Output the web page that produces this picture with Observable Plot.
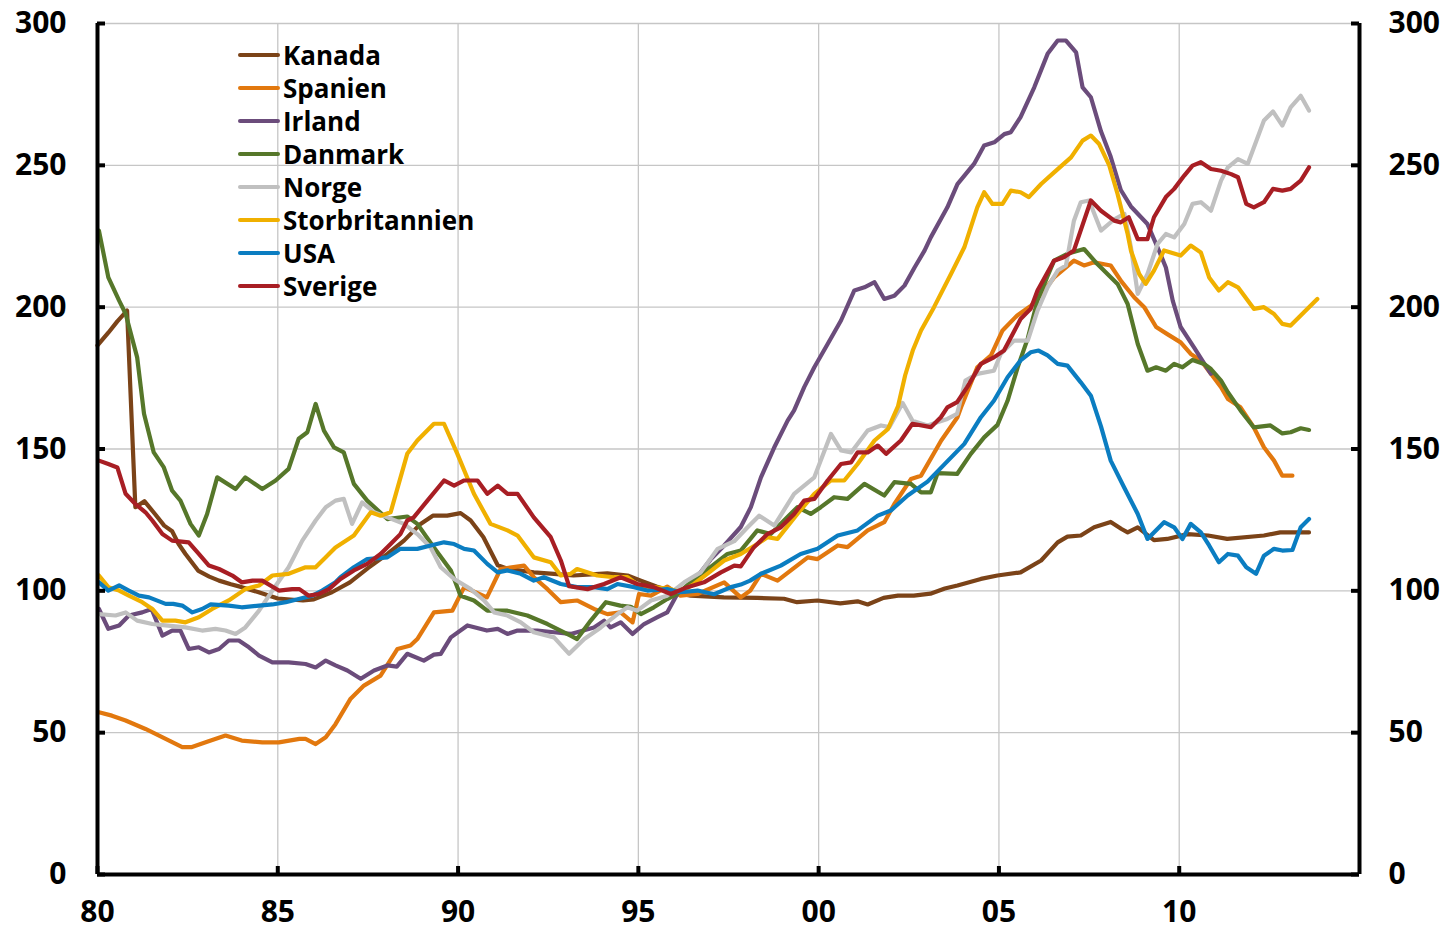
<!DOCTYPE html>
<html>
<head>
<meta charset="utf-8">
<script src="https://cdn.jsdelivr.net/npm/d3@7"></script>
<script src="https://cdn.jsdelivr.net/npm/@observablehq/plot@0.6"></script>
<style>
  html, body { margin: 0; padding: 0; background: #fff; }
  #wrap { position: relative; width: 1452px; height: 929px; font-family: "Open Sans", sans-serif; }
  #legend { position: absolute; left: 238px; top: 38px; }
  .item { display: flex; align-items: center; height: 33.1px; font-weight: bold; font-size: 26px; color: #000; }
  .sw { width: 42px; height: 4px; border-radius: 2px; margin-right: 3px; }
</style>
</head>
<body>
<div id="wrap"><div id="legend"></div></div>
<script>
const countries = ["Kanada","Spanien","Irland","Danmark","Norge","Storbritannien","USA","Sverige"];
const colors = ["#7b4318","#e2780e","#6b4c7b","#56772a","#c0c0c0","#f0b000","#0b7dc1","#a81e24"];
const yTicks = [0,50,100,150,200,250,300];
const xTicks = [1980,1985,1990,1995,2000,2005,2010];

const kanada = [[1980.0,186.5],[1980.3,191],[1980.55,195],[1980.82,198.8],[1981.05,129.5],[1981.3,131.6],[1981.6,127],[1981.85,123],[1982.07,121],[1982.25,116.5],[1982.44,113],[1982.8,107],[1983.1,105],[1983.37,103.6],[1983.7,102.3],[1984.0,101.3],[1984.47,99.5],[1985.0,97.3],[1985.7,96.6],[1986.0,97],[1986.5,99.5],[1987.0,103],[1987.5,108],[1988.04,113],[1988.5,117.7],[1988.96,123.6],[1989.3,126.5],[1989.7,126.5],[1990.07,127.4],[1990.35,124.8],[1990.7,119],[1991.1,109],[1991.37,107.8],[1992.1,106.5],[1992.66,106],[1993.2,105.4],[1993.7,105.8],[1994.14,106.2],[1994.7,105.4],[1995.07,103.6],[1995.5,101.5],[1996.0,99.5],[1996.45,98.3],[1997.37,97.7],[1998.3,97.5],[1999.04,97.2],[1999.4,96],[1999.97,96.6],[2000.6,95.6],[2001.08,96.3],[2001.36,95.2],[2001.8,97.5],[2002.2,98.3],[2002.64,98.3],[2003.1,99],[2003.5,100.8],[2003.85,101.9],[2004.5,104.2],[2004.96,105.4],[2005.6,106.5],[2006.17,110.7],[2006.63,117.1],[2006.9,119.1],[2007.27,119.5],[2007.64,122.4],[2008.1,124.3],[2008.4,121.8],[2008.57,120.6],[2008.85,122.4],[2009.3,117.9],[2009.67,118.3],[2010.23,120],[2010.8,119.5],[2011.33,118.3],[2012.35,119.5],[2012.8,120.6],[2013.6,120.6]];

const spanien = [[1980.04,57.2],[1980.4,56],[1980.78,54.3],[1981.33,51.3],[1981.89,47.8],[1982.35,44.9],[1982.6,44.9],[1983.0,46.6],[1983.55,49],[1984.0,47.2],[1984.57,46.6],[1985.03,46.6],[1985.6,47.8],[1985.77,47.8],[1986.05,46],[1986.33,48.4],[1986.6,53],[1987.02,62],[1987.39,66.6],[1987.85,70.1],[1988.32,79.5],[1988.68,80.7],[1988.87,83],[1989.33,92.4],[1989.84,93],[1990.17,101.3],[1990.8,97.7],[1991.18,107.7],[1991.83,108.9],[1992.1,104.8],[1992.48,100.6],[1992.85,96],[1993.3,96.6],[1993.77,93.6],[1994.14,91.8],[1994.51,92.4],[1994.84,88.9],[1995.02,98.9],[1995.35,98.3],[1995.8,101.5],[1996.17,98.3],[1996.64,98.9],[1997.38,103],[1997.84,97.7],[1998.1,100],[1998.4,106],[1998.86,103.6],[1999.23,107.2],[1999.7,111.8],[1999.97,111.2],[2000.53,116],[2000.8,115.4],[2001.36,121.3],[2001.82,124.2],[2002.1,130.6],[2002.56,139.4],[2002.84,140.6],[2003.4,153],[2003.85,161.2],[2003.95,164.7],[2004.4,178.8],[2004.78,183],[2005.1,191.8],[2005.5,197],[2005.9,200.6],[2006.2,205],[2006.53,210.5],[2007.08,216.4],[2007.36,214.7],[2007.64,215.8],[2008.1,214.7],[2008.4,209],[2008.75,203.5],[2009.03,200],[2009.36,193],[2009.67,190.5],[2010.04,187.6],[2010.32,183.5],[2010.6,181.2],[2010.88,176.5],[2011.16,171.8],[2011.35,167.6],[2011.7,164.7],[2012.07,157.6],[2012.35,150.6],[2012.63,145.9],[2012.86,140.6],[2013.14,140.6]];

const irland = [[1980.04,93.6],[1980.3,86.6],[1980.6,87.8],[1980.87,91.3],[1981.24,92.4],[1981.5,93.6],[1981.8,84.2],[1982.07,86],[1982.3,86],[1982.53,79.5],[1982.81,80.1],[1983.09,78.3],[1983.37,79.5],[1983.64,82.5],[1983.92,82.5],[1984.2,80.1],[1984.48,77.2],[1984.85,74.8],[1985.3,74.8],[1985.77,74.2],[1986.05,73],[1986.33,75.4],[1986.6,73.7],[1986.93,71.9],[1987.3,69],[1987.67,71.9],[1988.04,73.7],[1988.3,73.3],[1988.59,77.8],[1989.05,75.4],[1989.33,77.5],[1989.52,77.8],[1989.8,83.6],[1990.26,87.8],[1990.8,86],[1991.1,86.6],[1991.37,84.8],[1991.65,86],[1992.2,86],[1992.66,85.4],[1993.12,84.8],[1993.3,85.4],[1993.77,87.1],[1994.05,89.5],[1994.23,87.1],[1994.51,88.9],[1994.84,84.8],[1995.16,88.3],[1995.53,90.7],[1995.8,92.4],[1996.08,98.9],[1996.55,103.6],[1997.0,111],[1997.38,116],[1997.84,122.5],[1998.12,129.5],[1998.4,140],[1998.77,150.6],[1999.14,160],[1999.32,163.6],[1999.6,171.8],[1999.88,178.8],[2000.25,187],[2000.62,195.3],[2000.99,205.9],[2001.27,207],[2001.55,208.8],[2001.82,202.9],[2002.1,204],[2002.38,207.6],[2002.66,214],[2002.94,220],[2003.11,224.6],[2003.57,235.2],[2003.85,243.4],[2004.31,250.5],[2004.59,257],[2004.87,258.1],[2005.15,261],[2005.33,261.7],[2005.6,267],[2005.98,277.5],[2006.35,289.3],[2006.63,294],[2006.86,294],[2007.14,289.8],[2007.32,277.5],[2007.55,274],[2007.83,262],[2008.1,253],[2008.38,241.3],[2008.66,235.5],[2009.12,229.3],[2009.44,219.9],[2009.63,214],[2009.82,202.3],[2010.04,193],[2010.41,185.8],[2010.7,180],[2010.88,176.5]];

const danmark = [[1980.04,227],[1980.3,210.5],[1980.6,202.3],[1980.78,197.7],[1981.1,182.3],[1981.29,162.4],[1981.56,148.8],[1981.84,143.5],[1982.07,135.3],[1982.3,131.8],[1982.58,123.6],[1982.81,119.5],[1983.04,127.1],[1983.32,140],[1983.83,135.9],[1984.1,140],[1984.57,135.9],[1984.94,138.9],[1985.3,143],[1985.58,153.6],[1985.82,155.9],[1986.05,165.9],[1986.28,156.5],[1986.56,150.6],[1986.83,148.8],[1987.11,137.7],[1987.48,131.8],[1988.04,125.3],[1988.59,126.2],[1988.87,123.6],[1989.33,115.3],[1989.8,107.2],[1990.07,98.3],[1990.44,96.6],[1990.81,93],[1991.37,93],[1991.92,91.3],[1992.48,88.3],[1993.12,84.2],[1993.3,83],[1993.68,89.5],[1994.1,96],[1994.5,94.8],[1994.79,94.4],[1995.07,91.8],[1995.43,94.2],[1995.8,97.1],[1996.08,98.9],[1996.5,103.5],[1997.0,108.3],[1997.47,113],[1997.84,114.2],[1998.3,121.3],[1998.67,120],[1999.04,124.8],[1999.41,129.5],[1999.78,127.1],[2000.06,129.5],[2000.43,133],[2000.8,132.4],[2001.27,137.7],[2001.82,133.6],[2002.1,138.3],[2002.56,137.7],[2002.84,134.7],[2003.11,134.7],[2003.3,141.5],[2003.84,141.2],[2004.22,148.3],[2004.59,154.1],[2004.96,158.5],[2005.24,167],[2005.52,178.8],[2005.8,189],[2006.07,202.3],[2006.35,211],[2006.53,216.4],[2006.9,218.8],[2007.36,220.5],[2007.73,215.2],[2008.29,208.2],[2008.57,201.1],[2008.85,187],[2009.12,177.6],[2009.36,178.8],[2009.63,177.6],[2009.86,180],[2010.09,178.8],[2010.37,181.4],[2010.69,180],[2010.88,178.2],[2011.16,174.1],[2011.35,170],[2011.7,163.6],[2012.07,157.6],[2012.53,158.3],[2012.86,155.5],[2013.09,155.9],[2013.37,157.3],[2013.6,156.7]];

const norge = [[1980.04,91.8],[1980.5,91.3],[1980.78,92.4],[1981.1,89.5],[1981.52,88.3],[1981.89,87.8],[1982.44,87.1],[1982.9,86],[1983.27,86.6],[1983.55,86],[1983.83,84.8],[1984.1,87.1],[1984.48,93],[1984.85,100.1],[1985.3,108.3],[1985.68,117.7],[1986.05,124.8],[1986.33,129.5],[1986.6,131.8],[1986.83,132.4],[1987.06,123.6],[1987.34,131.2],[1987.67,127.7],[1988.04,125.9],[1988.5,123.6],[1988.87,120],[1989.24,115.3],[1989.52,108.3],[1989.89,104.2],[1990.35,100.6],[1990.72,96.6],[1991.0,92.4],[1991.37,91.3],[1991.74,88.9],[1992.1,85.4],[1992.66,83.6],[1993.08,77.8],[1993.5,83],[1993.96,87.1],[1994.42,91.8],[1994.7,94.2],[1994.97,93],[1995.35,96.6],[1995.8,98.3],[1996.27,103],[1996.73,106.5],[1997.2,114.8],[1997.66,117.5],[1998.03,122.4],[1998.35,126.5],[1998.77,123],[1999.32,134.2],[1999.88,140],[2000.34,155.3],[2000.62,149.5],[2000.9,148.8],[2001.36,156.5],[2001.73,158.3],[2001.96,157.7],[2002.33,166.2],[2002.6,160],[2003.02,158.3],[2003.57,160.6],[2003.84,162.4],[2004.07,174.1],[2004.4,176.5],[2004.86,177.6],[2005.05,183.5],[2005.42,188.2],[2005.8,188.2],[2006.07,198.8],[2006.35,207],[2006.63,212.9],[2006.86,214.7],[2007.08,230.5],[2007.27,237],[2007.5,237.6],[2007.83,227],[2008.2,231],[2008.48,232.9],[2008.66,221.2],[2008.85,204.7],[2009.12,211.7],[2009.4,222.3],[2009.63,225.8],[2009.86,224.6],[2010.14,229.3],[2010.37,236.4],[2010.6,237],[2010.88,234],[2011.16,244.6],[2011.35,249.3],[2011.63,252.2],[2011.9,250.5],[2012.35,265.8],[2012.6,269],[2012.86,264],[2013.09,270.4],[2013.37,274.5],[2013.6,269.3]];

const storbritannien = [[1980.04,105.4],[1980.3,101.3],[1980.6,100.1],[1980.87,98.3],[1981.24,96],[1981.52,93.6],[1981.8,89.5],[1982.16,89.5],[1982.44,88.9],[1982.81,90.7],[1983.18,93.6],[1983.64,96.6],[1984.1,100.6],[1984.48,101.9],[1984.85,105.4],[1985.3,106],[1985.77,108.3],[1986.05,108.3],[1986.33,111.8],[1986.6,115.3],[1987.11,119.5],[1987.58,127.7],[1987.85,126.5],[1988.13,127.7],[1988.59,148.3],[1988.87,153],[1989.33,158.9],[1989.61,158.9],[1989.98,148.3],[1990.44,134.2],[1990.9,123.6],[1991.37,121.3],[1991.65,119.5],[1992.1,111.8],[1992.57,110.1],[1992.85,105.4],[1993.12,106],[1993.3,107.7],[1993.86,105.4],[1994.32,104.8],[1994.7,104.8],[1995.07,101.3],[1995.43,101.3],[1995.9,100.6],[1996.17,99.5],[1996.54,102.4],[1996.91,106],[1997.38,110.7],[1997.84,113],[1998.3,116.5],[1998.58,118.9],[1998.86,118.3],[1999.41,127.1],[1999.88,134.2],[2000.34,138.9],[2000.71,138.9],[2001.08,144.7],[2001.55,153],[2001.92,157],[2002.2,165],[2002.4,176],[2002.61,184.7],[2002.84,191.8],[2003.2,200],[2003.67,211.7],[2004.04,221.1],[2004.4,235.2],[2004.59,240.5],[2004.82,236.4],[2005.1,236.4],[2005.33,241.1],[2005.6,240.5],[2005.83,238.8],[2006.17,243.4],[2006.53,247.5],[2007.0,252.8],[2007.32,258.7],[2007.55,260.5],[2007.78,257.5],[2008.06,250],[2008.29,239.9],[2008.57,225.8],[2008.66,220],[2008.89,211.7],[2009.07,208.2],[2009.3,212.9],[2009.58,220],[2010.04,218.2],[2010.32,221.7],[2010.6,219.3],[2010.83,210.5],[2011.1,205.9],[2011.35,208.8],[2011.63,207],[2012.07,199.4],[2012.35,200],[2012.63,197.6],[2012.86,194.1],[2013.09,193.5],[2013.46,198.2],[2013.83,202.9]];

const usa = [[1980.04,103],[1980.3,100.1],[1980.6,101.9],[1980.87,100.1],[1981.15,98.3],[1981.43,97.7],[1981.89,95.4],[1982.1,95.4],[1982.35,94.8],[1982.63,92.4],[1982.9,93.6],[1983.14,95.2],[1983.64,94.8],[1984.0,94.2],[1984.48,94.8],[1984.85,95.2],[1985.22,96],[1985.58,97.1],[1985.96,98.3],[1986.23,100.1],[1986.6,103],[1986.74,104.8],[1987.11,108.3],[1987.48,111.2],[1988.04,111.8],[1988.4,114.8],[1988.87,114.8],[1989.24,116],[1989.61,117.1],[1989.89,116.5],[1990.17,114.8],[1990.44,114.2],[1990.81,109.5],[1991.1,106.5],[1991.37,107.2],[1991.74,106],[1992.1,103.6],[1992.38,104.8],[1992.85,102.4],[1993.3,101.3],[1993.77,101.3],[1994.14,100.6],[1994.42,102.4],[1994.88,101.3],[1995.25,100.1],[1995.8,100.6],[1996.17,99.5],[1996.64,100.1],[1997.1,98.8],[1997.57,101.3],[1997.84,102.2],[1998.1,103.6],[1998.4,106],[1998.95,108.9],[1999.5,113],[1999.97,114.8],[2000.53,119.5],[2001.08,121.3],[2001.64,126.5],[2002.0,128.3],[2002.47,133.6],[2003.02,138.5],[2003.48,144.5],[2004.04,151.8],[2004.5,161.2],[2004.86,167],[2005.24,175.3],[2005.6,181.2],[2005.88,184.1],[2006.1,184.7],[2006.35,183],[2006.63,180],[2006.9,179.4],[2007.27,173.5],[2007.55,168.8],[2007.83,158],[2008.1,145.9],[2008.47,136.5],[2008.85,127.1],[2009.12,118.3],[2009.58,124.2],[2009.86,122.4],[2010.09,118.3],[2010.32,123.6],[2010.6,120.6],[2010.83,116],[2011.1,110.1],[2011.35,113],[2011.63,112.4],[2011.86,108.3],[2012.13,106],[2012.35,112.4],[2012.63,114.8],[2012.86,114.2],[2013.14,114.4],[2013.37,122.4],[2013.6,125.3]];

const sverige = [[1980.04,145.9],[1980.3,144.7],[1980.55,143.5],[1980.78,134.2],[1981.05,130.6],[1981.33,127.7],[1981.52,124.8],[1981.8,120],[1982.07,117.7],[1982.53,117.1],[1982.81,113],[1983.09,108.9],[1983.37,107.7],[1983.74,105.4],[1984.0,103],[1984.3,103.6],[1984.57,103.6],[1985.03,100.1],[1985.4,100.6],[1985.6,100.6],[1985.86,98.3],[1986.14,98.9],[1986.42,100.6],[1986.74,104.2],[1987.11,107.2],[1987.48,109.5],[1987.85,113],[1988.13,116.5],[1988.4,120],[1988.59,124.8],[1988.77,125.9],[1989.15,131.8],[1989.61,138.9],[1989.89,137.1],[1990.17,138.9],[1990.54,138.9],[1990.81,134.2],[1991.1,137.1],[1991.37,134.2],[1991.65,134.2],[1992.1,125.9],[1992.57,118.9],[1992.85,110.7],[1993.08,101.6],[1993.59,100.6],[1994.05,102.4],[1994.51,104.8],[1994.97,102.4],[1995.43,101.3],[1995.9,98.9],[1996.36,101.3],[1996.82,103],[1997.29,106.5],[1997.66,108.9],[1997.84,108.6],[1998.2,115.3],[1998.58,120],[1998.95,122.4],[1999.32,127.1],[1999.6,131.8],[1999.88,132.4],[2000.25,138.9],[2000.62,144.7],[2000.9,145.3],[2001.08,148.8],[2001.36,148.8],[2001.64,151.2],[2001.87,148.3],[2002.28,153],[2002.6,158.9],[2003.11,157.7],[2003.39,161.2],[2003.57,164.7],[2003.84,166.5],[2004.12,171.8],[2004.5,180],[2004.86,182.3],[2005.14,184.7],[2005.6,195.8],[2005.88,199.4],[2006.07,205.9],[2006.53,216.4],[2006.8,217.6],[2007.08,220],[2007.55,237.6],[2007.83,234],[2008.2,230.5],[2008.38,229.9],[2008.6,231.7],[2008.85,224],[2009.12,224],[2009.3,231.7],[2009.63,238.8],[2009.86,241.7],[2010.14,246.4],[2010.37,249.9],[2010.6,251.1],[2010.88,248.7],[2011.16,248.1],[2011.44,246.9],[2011.63,245.8],[2011.86,236.4],[2012.07,235.2],[2012.35,237],[2012.6,241.7],[2012.86,241.1],[2013.09,241.7],[2013.37,244.6],[2013.6,249.3]];

const seriesList = [kanada, spanien, irland, danmark, norge, storbritannien, usa, sverige];
const rows = [];
seriesList.forEach((s, i) => s.forEach(([year, value]) => rows.push({country: countries[i], year, value})));

const W = 1452, H = 929, mL = 97, mR = 93, mT = 23, mB = 55;
const frameW = W - mL - mR, frameH = H - mT - mB;
const fontStyle = {fontSize: 30, fontWeight: "bold", fontFamily: "Open Sans"};

const chart = Plot.plot({
  width: W, height: H,
  marginLeft: mL, marginRight: mR, marginTop: mT, marginBottom: mB,
  style: {fontFamily: "Open Sans", fontSize: "30px", fontWeight: "bold", color: "#000", background: "transparent", overflow: "visible"},
  x: {domain: [1980, 2015]},
  y: {domain: [0, 300]},
  color: {domain: countries, range: colors},
  marks: [
    Plot.gridX(xTicks.filter(d => d > 1980), {stroke: "#c6c6c6", strokeOpacity: 1, strokeWidth: 1.3}),
    Plot.gridY(yTicks.filter(d => d > 0), {stroke: "#c6c6c6", strokeOpacity: 1, strokeWidth: 1.3}),
    Plot.line(rows, {x: "year", y: "value", z: "country", stroke: "country", strokeWidth: 4.2, strokeLinejoin: "round", strokeLinecap: "round"}),
    Plot.ruleX([1980, 2015], {stroke: "#000", strokeWidth: 4}),
    Plot.ruleY([0], {stroke: "#000", strokeWidth: 4}),
    Plot.tickY(yTicks, {y: d => d, stroke: "#000", strokeWidth: 4, insetRight: frameW - 8}),
    Plot.tickY(yTicks, {y: d => d, stroke: "#000", strokeWidth: 4, insetLeft: frameW - 8}),
    Plot.tickX(xTicks, {x: d => d, stroke: "#000", strokeWidth: 4, insetTop: frameH - 8}),
    Plot.axisY(yTicks, {anchor: "left", label: null, tickSize: 0, tickPadding: 31, ...fontStyle}),
    Plot.axisY(yTicks, {anchor: "right", label: null, tickSize: 0, tickPadding: 29, ...fontStyle}),
    Plot.axisX(xTicks, {anchor: "bottom", label: null, tickSize: 0, tickPadding: 26, tickFormat: d => String(d).slice(2), ...fontStyle})
  ]
});

const wrap = document.getElementById("wrap");
wrap.insertBefore(chart, wrap.firstChild);

const legend = document.getElementById("legend");
countries.forEach((c, i) => {
  const item = document.createElement("div");
  item.className = "item";
  const sw = document.createElement("span");
  sw.className = "sw";
  sw.style.background = colors[i];
  const t = document.createElement("span");
  t.textContent = c;
  item.appendChild(sw);
  item.appendChild(t);
  legend.appendChild(item);
});
</script>
</body>
</html>
